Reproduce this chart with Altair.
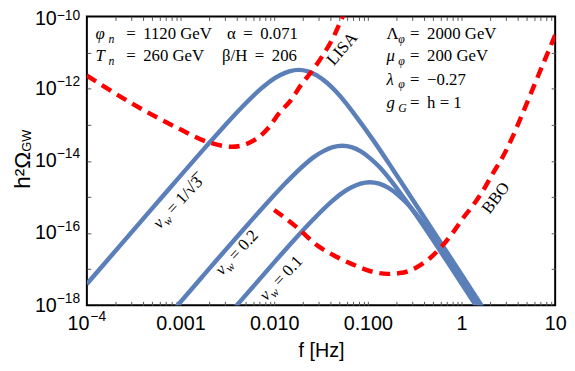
import math
import altair as alt
import pandas as pd

# ---------------- values ----------------
# v_w = 1/sqrt(3)
fA = [1.0e-4, 5.75e-4, 1.82e-3, 2.88e-3, 4.57e-3, 7.24e-3, 9.12e-3, 1.15e-2, 1.45e-2, 1.82e-2, 2.29e-2,
      2.88e-2, 3.63e-2, 4.57e-2, 5.75e-2, 7.24e-2, 0.115, 0.182, 0.288, 0.575, 1.148, 1.82]
oA = [3.89e-18, 7.41e-16, 2.29e-14, 8.71e-14, 3.16e-13, 1.0e-12, 1.62e-12, 2.34e-12, 3.02e-12, 3.31e-12, 3.02e-12,
      2.29e-12, 1.48e-12, 8.32e-13, 4.17e-13, 1.91e-13, 3.63e-14, 6.17e-15, 1.0e-15, 6.46e-17, 4.07e-18, 6.46e-19]
# v_w = 0.2
fB = [8.43e-4, 1.68e-3, 5.32e-3, 8.43e-3, 1.34e-2, 2.12e-2, 2.67e-2, 3.36e-2, 4.23e-2, 5.32e-2, 6.70e-2,
      8.43e-2, 0.106, 0.134, 0.168, 0.212, 0.336, 0.532, 0.843, 1.68]
oB = [7.41e-19, 5.89e-18, 1.82e-16, 6.92e-16, 2.51e-15, 7.94e-15, 1.29e-14, 1.86e-14, 2.40e-14, 2.63e-14, 2.40e-14,
      1.82e-14, 1.17e-14, 6.61e-15, 3.31e-15, 1.51e-15, 2.88e-16, 4.90e-17, 7.94e-18, 5.13e-19]
# v_w = 0.1
fC = [3.32e-3, 4.18e-3, 1.05e-2, 1.66e-2, 2.64e-2, 4.18e-2, 5.26e-2, 6.62e-2, 8.34e-2, 0.105, 0.132,
      0.166, 0.209, 0.264, 0.332, 0.418, 0.662, 1.05, 1.66]
oC = [5.75e-19, 1.15e-18, 1.78e-17, 6.76e-17, 2.45e-16, 7.76e-16, 1.26e-15, 1.82e-15, 2.34e-15, 2.57e-15, 2.34e-15,
      1.78e-15, 1.15e-15, 6.46e-16, 3.24e-16, 1.48e-16, 2.82e-17, 4.79e-18, 7.76e-19]
# LISA sensitivity
fLISA = [1.0e-4, 2.98e-4, 9.29e-4, 2.07e-3, 3.52e-3, 6.47e-3, 8.65e-3, 1.13e-2, 1.51e-2, 1.92e-2,
         2.45e-2, 3.28e-2, 4.18e-2, 5.07e-2, 5.73e-2]
oLISA = [2.29e-12, 3.98e-13, 8.13e-14, 3.16e-14, 2.45e-14, 4.07e-14, 8.13e-14, 2.09e-13, 4.79e-13, 1.23e-12,
         2.75e-12, 8.13e-12, 2.34e-11, 6.92e-11, 1.45e-10]
# BBO sensitivity
fBBO = [1.0e-2, 1.71e-2, 2.98e-2, 4.5e-2, 6.79e-2, 0.105, 0.163, 0.233, 0.336, 0.472, 0.615,
        0.824, 1.05, 1.34, 1.71, 2.17, 2.77, 3.52, 4.5, 6.15, 7.85, 10.0]
oBBO = [4.37e-16, 1.51e-16, 4.27e-17, 2.29e-17, 1.38e-17, 8.91e-18, 7.41e-18, 7.94e-18, 1.15e-17, 2.14e-17, 4.27e-17,
        1.10e-16, 2.69e-16, 6.03e-16, 1.55e-15, 4.57e-15, 1.32e-14, 4.68e-14, 2.09e-13, 1.48e-12, 6.76e-12, 3.02e-11]

# tick labels
x_label_values = [1e-4, 1e-3, 1e-2, 1e-1, 1, 10]
x_labels = ["10", "0.001", "0.010", "0.100", "1", "10"]
x_exp_value = [1e-4]
x_exp = "\u22124"
y_label_values = [1e-18, 1e-16, 1e-14, 1e-12, 1e-10]
y_base = "10"
y_exps = ["\u221218", "\u221216", "\u221214", "\u221212", "\u221210"]
x_tick_values = [m * 10.0 ** e for e in range(-4, 1) for m in range(1, 10)] + [10.0]
y_tick_values = [10.0 ** e for e in range(-18, -9)]

# annotation anchors (data coordinates)
col_left, col_alpha, col_beta, col_right = 1.24e-4, 3.13e-3, 2.77e-3, 0.158
row1, row2, row3, row4 = 2.36e-11, 5.89e-12, 1.30e-12, 2.88e-13
sym_italic = [("\u03c6", col_left, row1), ("T", col_left, row2), ("\u03bc", col_right, row2),
              ("\u03bb", col_right, row3), ("g", col_right, row4)]
sym_upright = [("\u03b1\u2009 =\u2009 0.071", col_alpha, row1), ("\u03b2/H\u2009 =\u2009 206", col_beta, row2),
               ("\u039b", col_right, row1)]
sub_left = [("n", col_left, row1), ("n", col_left, row2)]
rest_left = [("=\u2009 1120 GeV", col_left, row1), ("=\u2009 260 GeV", col_left, row2)]
sub_right = [("\u03c6", col_right, row1), ("\u03c6", col_right, row2), ("\u03c6", col_right, row3),
             ("G", col_right, row4)]
rest_right = [("=\u2009 2000 GeV", col_right, row1), ("=\u2009 200 GeV", col_right, row2),
              ("=\u2009 \u22120.27", col_right, row3), ("=\u2009 h = 1", col_right, row4)]
lisa_label = [("LISA", 5.32e-2, 1.26e-11)]
bbo_label = [("BBO", 2.33, 9.33e-16)]
vw_anchor_f = [6.01e-4, 2.77e-3, 8.24e-3]
vw_anchor_o = [1.26e-16, 6.52e-18, 1.27e-18]
vw_rest = ["= 1/\u221a3\u0305", "= 0.2", "= 0.1"]
ytitle_main = [("h\u00b2\u03a9", 2.45e-5, 5.47e-15)]
ytitle_sub = [("GW", 2.51e-5, 3.61e-14)]

# ---------------- styling ----------------
SANS = "Liberation Sans, Arial, Helvetica, sans-serif"
SERIF = "Liberation Serif, Times New Roman, serif"
BLUE = "#5b7fb9"
RED = "#ff0000"
W, H = 475, 293

xscale = alt.Scale(type="log", domain=[1e-4, 10], nice=False)
yscale = alt.Scale(type="log", domain=[1e-18, 1e-10], nice=False)


def label_expr(values, labels):
    expr = "''"
    for v, lab in reversed(list(zip(values, labels))):
        expr = f"abs(datum.value / {v!r} - 1) < 1e-6 ? {lab!r} : {expr}"
    return expr


common = dict(domain=False, labelFlush=False, labelOverlap=False, labelColor="black", labelFont=SANS,
              ticks=False, tickSize=0, titleColor="black", titleFont=SANS, titleFontWeight="normal")

x_axis_main = alt.Axis(
    values=x_tick_values, labelExpr=label_expr(x_label_values, x_labels),
    labelFontSize=20, labelPadding=9,
    labelOffset={"condition": {"test": "datum.value < 0.00015", "value": -9}, "value": 0},
    grid=True, gridColor="#555555", gridWidth=1, gridDash=[4, H - 8, 4, 2000],
    gridOpacity={"condition": {"test": "datum.value < 0.00011 || datum.value > 9", "value": 0}, "value": 1},
    title="f [Hz]", titleFontSize=20, titleY=52, titleBaseline="alphabetic", **common)
x_axis_exp = alt.Axis(
    orient="top", offset=-308, values=x_exp_value, labelExpr=repr(x_exp), labelFontSize=14,
    labelPadding=0, labelBaseline="alphabetic", labelOffset=11, grid=False, title=None, **common)

y_axis_main = alt.Axis(
    values=y_tick_values, labelExpr=label_expr(y_label_values, [y_base] * len(y_label_values)),
    labelFontSize=20, labelPadding=31, labelBaseline="middle",
    labelOffset={"condition": {"test": "datum.value > 5e-11", "value": 2}, "value": 0},
    grid=True, gridColor="#555555", gridWidth=1, gridDash=[4, W - 8, 4, 2000],
    gridOpacity={"condition": {"test": "datum.value < 2e-18 || datum.value > 5e-11", "value": 0}, "value": 1},
    title=None, **common)
y_axis_exp = alt.Axis(
    orient="right", offset=-(W + 31), values=y_label_values, labelExpr=label_expr(y_label_values, y_exps),
    labelFontSize=14, labelPadding=0, labelAlign="left", labelBaseline="middle",
    labelOffset={"condition": {"test": "datum.value > 5e-11", "value": -1}, "value": -7},
    grid=False, title=None, **common)

# ---------------- data tables ----------------
df_blue = pd.concat([
    pd.DataFrame({"f": fA, "o": oA, "s": "1/sqrt3"}),
    pd.DataFrame({"f": fB, "o": oB, "s": "0.2"}),
    pd.DataFrame({"f": fC, "o": oC, "s": "0.1"}),
])
df_lisa = pd.DataFrame({"f": fLISA, "o": oLISA})
df_bbo = pd.DataFrame({"f": fBBO, "o": oBBO})


def tdf(items):
    return pd.DataFrame({"t": [a[0] for a in items], "f": [a[1] for a in items], "o": [a[2] for a in items]})


def xy(xaxis=None, yaxis=None):
    return dict(x=alt.X("f:Q", scale=xscale, axis=xaxis), y=alt.Y("o:Q", scale=yscale, axis=yaxis))


def text_layer(df, size=17, italic=False, dx=0, dy=0, angle=0, align="left", baseline="alphabetic",
               font=SERIF, xaxis=None, yaxis=None):
    mark = alt.Chart(df).mark_text(font=font, fontSize=size, fontStyle="italic" if italic else "normal",
                                   dx=dx, dy=dy, angle=angle, align=align, baseline=baseline, color="black")
    return mark.encode(text="t:N", **xy(xaxis, yaxis))


blue = alt.Chart(df_blue).mark_line(color=BLUE, strokeWidth=4.5, interpolate="monotone", clip=True).encode(
    detail="s:N", **xy(x_axis_main, y_axis_main))
lisa = alt.Chart(df_lisa).mark_line(color=RED, strokeWidth=4.5, strokeDash=[11, 7], interpolate="monotone",
                                    clip=True).encode(**xy(x_axis_exp, y_axis_exp))
bbo = alt.Chart(df_bbo).mark_line(color=RED, strokeWidth=4.5, strokeDash=[11, 7], interpolate="monotone",
                                  clip=True).encode(**xy())

df_vw = pd.DataFrame({"f": vw_anchor_f, "o": vw_anchor_o})
layers = [
    blue, lisa, bbo,
    text_layer(tdf(sym_italic), italic=True),
    text_layer(tdf(sub_left), size=12, italic=True, dx=13, dy=4),
    text_layer(tdf(sym_upright)),
    text_layer(tdf(rest_left), dx=31),
    text_layer(tdf(sub_right), size=12, italic=True, dx=12, dy=4),
    text_layer(tdf(rest_right), dx=24),
    text_layer(tdf(lisa_label), angle=311, align="center", baseline="middle"),
    text_layer(tdf(bbo_label), angle=307, align="center", baseline="middle"),
    text_layer(df_vw.assign(t="v"), italic=True, angle=313),
    text_layer(df_vw.assign(t="w"), size=12, italic=True, angle=313, dx=8, dy=4),
    text_layer(df_vw.assign(t=vw_rest), angle=313, dx=20),
    text_layer(tdf(ytitle_main), size=23, angle=270, align="center", font=SANS),
    text_layer(tdf(ytitle_sub), size=13, angle=270, align="center", font=SANS),
]

chart = alt.layer(*layers).properties(
    width=W, height=H,
    padding={"left": 80, "top": 6, "right": 12, "bottom": 56},
    autosize=alt.AutoSizeParams(type="none"),
).resolve_axis(x="independent", y="independent").configure_view(stroke="black", strokeWidth=2)

chart.save("out.html", embed_options={"renderer": "svg", "actions": False})
